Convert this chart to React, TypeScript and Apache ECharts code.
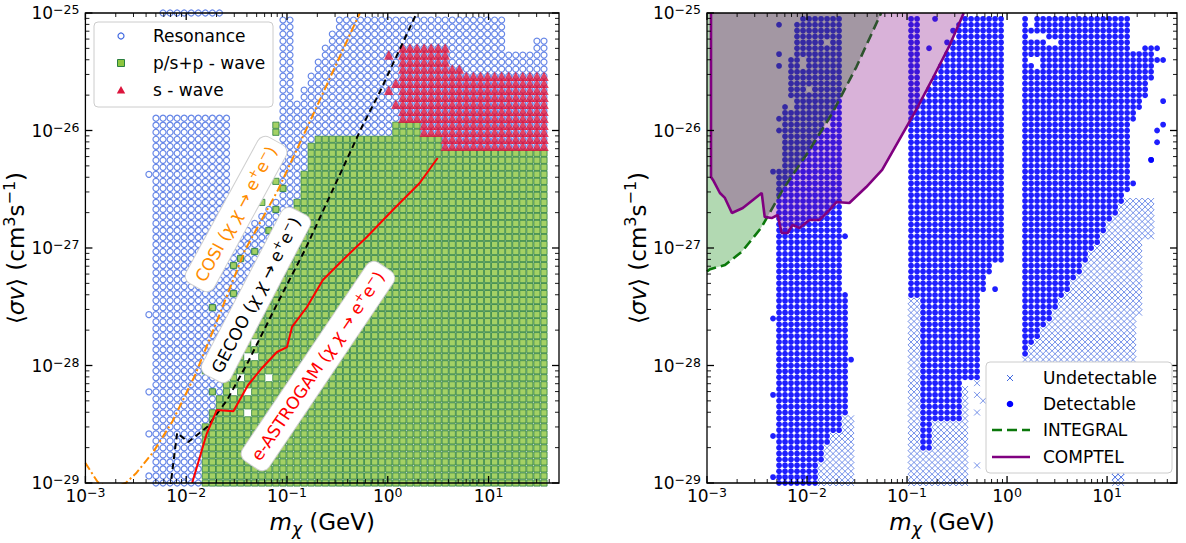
import React, { useEffect, useRef } from "react";
import * as echarts from "echarts";

const FONT = "DejaVu Sans";

// ---- axes (log10 units) ----
const X_MIN = -3;
const X_MAX = Math.log10(50);
const Y_MIN = -29;
const Y_MAX = -25;
const X_DECADES = [-3, -2, -1, 0, 1];
const Y_DECADES = [-29, -28, -27, -26, -25];
const MINOR_FACTORS = [2, 3, 4, 5, 6, 7, 8, 9];

const LEFT_STEP = [0.07, 4 / 67];
const RIGHT_STEP = [0.06, 0.05];

// ---- LEFT PANEL: regions of the scan, [log10 m, log10 <sv>] ----
const LEFT_RESONANCE_POLYS = [
  [[-2.31, -29], [-1.58, -29], [-1.58, -25.85], [-2.31, -25.85]],
  [[-2.24, -25.03], [-1.6, -25.03], [-1.6, -24.97], [-2.24, -24.97]],
  [[-1.58, -29], [-1.58, -26.95], [-1.3, -26.75], [-1.05, -26.5], [-1.05, -25.0], [-0.9, -25.0], [-0.9, -25.72], [-0.47, -25.0], [1.16, -25.0], [1.16, -25.35], [1.42, -25.3], [1.42, -25.2], [1.56, -25.2], [1.56, -26.3], [0.3, -26.3], [-0.8, -29]],
];
const LEFT_PWAVE_POLY = [
  [-1.83, -29], [1.57, -29], [1.57, -26.17], [0.55, -26.17], [0.55, -26.06], [0.33, -26.06], [0.33, -25.9], [0.04, -25.9], [0.04, -26.04], [-0.75, -26.04], [-0.9, -26.6], [-1.05, -27.05], [-1.25, -27.45], [-1.45, -27.85], [-1.62, -28.2], [-1.83, -28.5],
];
const LEFT_SWAVE_POLY = [
  [0.12, -26.2], [0.12, -25.25], [0.58, -25.25], [0.58, -25.43], [0.74, -25.43], [0.74, -25.51], [1.57, -25.51], [1.57, -26.2],
];
const LEFT_RESONANCE_EXTRA = [[-2.36, -26.36], [-2.36, -27.57], [-2.36, -28.23], [-2.36, -28.59], [-2.36, -28.95]];
const LEFT_PWAVE_EXTRA = [
  [-1.099, -25.996], [-1.099, -25.94], [-1.099, -26.447], [-1.04, -26.506], [-1.099, -26.677], [-1.238, -26.609], [-1.149, -26.821],
  [-1.347, -27.017], [-1.465, -27.077], [-1.564, -27.128], [-1.564, -27.374], [-1.762, -27.485], [-1.812, -28.055], [-1.713, -28.251], [-1.663, -27.868],
];
const LEFT_SWAVE_EXTRA = [[0.0, -25.34], [0.05, -25.57], [0.0, -25.66], [0.06, -25.8]];
const LEFT_EMPTY_CELLS = [
  [-1.347, -27.826], [-1.416, -27.928], [-1.287, -27.928], [-1.465, -28.123], [-1.515, -28.226], [-1.386, -28.226], [-1.366, -28.379], [-1.149, -28.081],
];

// ---- LEFT PANEL: sensitivity curves ----
const COSI_CURVE = [
  [-3.0, -28.83], [-2.88, -28.99], [-2.75, -29.05], [-2.6, -29.0], [-2.5, -28.92], [-2.33, -28.74], [-2.139, -28.48], [-1.911, -28.08],
  [-1.683, -27.596], [-1.416, -27.017], [-1.089, -26.506], [-0.752, -25.885], [-0.277, -25.0],
];
const GECOO_CURVE = [
  [-2.16, -29.05], [-2.09, -28.574], [-1.98, -28.651], [-1.792, -28.523], [-1.594, -28.294], [-1.386, -27.97], [-1.089, -27.46],
  [-0.822, -27.017], [-0.257, -25.97], [-0.079, -25.672], [0.287, -25.0],
];
const ASTROGAM_CURVE = [
  [-1.941, -29.0], [-1.795, -28.577], [-1.696, -28.379], [-1.532, -28.39], [-1.386, -28.166], [-1.248, -28.021], [-1.099, -27.885],
  [-1.0, -27.843], [-0.95, -27.672], [-0.802, -27.502], [-0.644, -27.272], [-0.446, -27.102], [-0.208, -26.906], [0.05, -26.677],
  [0.317, -26.447], [0.495, -26.234],
];
const ANNOTATIONS = [
  { label: "COSI", at: [-1.505, -26.711], angle: 61.4, color: "#ff8c00" },
  { label: "GECOO", at: [-1.307, -27.4], angle: 62.5, color: "#000000" },
  { label: "e-ASTROGAM", at: [-0.693, -28.004], angle: 56, color: "#ff0000" },
];

// ---- RIGHT PANEL: regions ----
const DETECTABLE_POLYS = [
  [[-2.3, -29], [-1.9, -29], [-1.9, -28.83], [-1.85, -28.83], [-1.85, -28.69], [-1.78, -28.69], [-1.78, -28.55], [-1.65, -28.55], [-1.65, -28.42], [-1.56, -28.4], [-1.56, -27.36], [-1.62, -27.36], [-1.62, -25.0], [-2.08, -25.0], [-2.15, -25.3], [-2.25, -26.0], [-2.3, -26.5]],
  [[-1.0, -25.0], [-0.88, -25.0], [-0.88, -25.78], [-0.75, -25.55], [-0.58, -25.28], [-0.44, -25.0], [-0.06, -25.0], [-0.06, -27.13], [-0.16, -27.13], [-0.16, -27.21], [-0.2, -27.21], [-0.2, -27.36], [-0.3, -27.45], [-0.3, -28.1], [-0.43, -28.15], [-0.43, -28.46], [-0.73, -28.46], [-0.73, -28.72], [-0.88, -28.72], [-0.88, -27.42], [-1.0, -27.42]],
  [[0.144, -25.0], [1.21, -25.0], [1.21, -25.35], [1.35, -25.3], [1.46, -25.25], [1.5, -25.5], [1.42, -25.6], [1.35, -25.8], [1.25, -25.95], [1.25, -26.45], [1.2, -26.55], [0.144, -27.98]],
];
const UNDETECTABLE_POLYS = [
  [[-1.9, -29], [-1.5, -29], [-1.5, -28.6], [-1.55, -28.4], [-1.65, -28.4], [-1.9, -28.83]],
  [[-1.0, -29], [-0.4, -29], [-0.4, -28.15], [-0.88, -28.15], [-0.88, -27.42], [-1.0, -27.42]],
  [[0.144, -27.98], [1.2, -26.55], [1.44, -26.6], [1.44, -26.9], [1.38, -26.95], [1.38, -27.5], [1.28, -27.6], [1.28, -28.1], [1.16, -28.5], [1.16, -29.0], [1.02, -29.0], [1.02, -28.9], [0.144, -28.3]],
];
const DETECTABLE_EXTRA = [
  [-2.343, -27.587], [-2.343, -28.234], [-2.343, -28.609], [-2.343, -28.957], [-1.557, -27.936], [-1.627, -26.906],
  [-2.294, -25.085], [-2.294, -25.34], [-2.294, -25.46], [-2.343, -26.36], [-2.274, -25.91], [-2.274, -26.02],
  [-0.801, -25.298], [-0.612, -25.247], [-0.731, -25.043], [-0.552, -25.145], [-0.134, -27.332],
  [1.537, -25.757], [1.478, -25.996], [1.537, -25.953], [1.478, -26.106], [1.428, -26.226], [1.428, -26.268], [1.289, -26.464],
  [1.478, -25.29], [1.478, -25.4], [1.537, -25.4],
];
const UNDETECTABLE_EXTRA = [[-0.31, -28.4], [-0.31, -28.85], [-0.28, -28.15], [-0.3, -28.25], [-0.27, -28.3], [1.08, -28.95], [1.12, -28.95]];
const RIGHT_EMPTY_CELLS = [
  [0.264, -25.05], [0.264, -25.1], [0.21, -25.2], [0.27, -25.2], [0.33, -25.2], [0.39, -25.25], [0.45, -25.25], [0.21, -25.4], [0.27, -25.4], [0.27, -25.45],
  [-2.22, -25.2], [-2.17, -25.25], [-2.05, -25.4], [-2.05, -25.45], [-1.81, -25.25], [-1.98, -25.64], [-2.17, -25.74], [-2.17, -25.8], [-1.82, -25.94], [-2.23, -25.6], [-2.23, -25.65],
];

// ---- RIGHT PANEL: constraint curves ----
const INTEGRAL_CURVE = [
  [-3.0, -27.2], [-2.97, -27.18], [-2.82, -27.145], [-2.65, -27.03], [-2.46, -26.83], [-2.244, -26.506], [-1.975, -26.166],
  [-1.746, -25.851], [-1.507, -25.46], [-1.259, -25.0],
];
const COMPTEL_CURVE = [
  [-2.96, -25.0], [-2.96, -26.396], [-2.94, -26.421], [-2.871, -26.532], [-2.821, -26.574], [-2.751, -26.702], [-2.642, -26.66],
  [-2.453, -26.532], [-2.423, -26.736], [-2.353, -26.745], [-2.294, -26.719], [-2.254, -26.872], [-2.194, -26.872], [-2.144, -26.804],
  [-2.075, -26.83], [-1.975, -26.762], [-1.876, -26.762], [-1.776, -26.677], [-1.706, -26.609], [-1.577, -26.617], [-1.408, -26.481],
  [-1.249, -26.336], [-1.08, -26.081], [-0.91, -25.826], [-0.751, -25.57], [-0.582, -25.289], [-0.433, -25.0],
];

// ---------- helpers ----------
function inPoly(p: number[], poly: number[][]) {
  let inside = false;
  for (let i = 0, j = poly.length - 1; i < poly.length; j = i++) {
    const xi = poly[i][0], yi = poly[i][1], xj = poly[j][0], yj = poly[j][1];
    if ((yi > p[1]) !== (yj > p[1]) && p[0] < ((xj - xi) * (p[1] - yi)) / (yj - yi) + xi) inside = !inside;
  }
  return inside;
}
function snap(p: number[], step: number[]) {
  return [X_MIN + Math.round((p[0] - X_MIN) / step[0]) * step[0], Y_MIN + Math.round((p[1] - Y_MIN) / step[1]) * step[1]];
}
function scanCells(step: number[]) {
  const cells: number[][] = [];
  const nx = Math.floor((X_MAX - X_MIN) / step[0] + 1e-6);
  const ny = Math.round((Y_MAX - Y_MIN) / step[1]);
  for (let i = 0; i <= nx; i++) for (let j = 0; j <= ny; j++) cells.push([X_MIN + i * step[0], Y_MIN + j * step[1]]);
  return cells;
}
const key = (p: number[]) => p[0].toFixed(3) + "," + p[1].toFixed(3);

function buildLeft() {
  const gaps = new Set(LEFT_EMPTY_CELLS.map((p) => key(snap(p, LEFT_STEP))));
  const res: number[][] = [], pw: number[][] = [], sw: number[][] = [];
  for (const c of scanCells(LEFT_STEP)) {
    if (gaps.has(key(c))) continue;
    const g = inPoly(c, LEFT_PWAVE_POLY);
    if (g) pw.push(c);
    else if (LEFT_RESONANCE_POLYS.some((poly) => inPoly(c, poly))) res.push(c);
    if (!g && inPoly(c, LEFT_SWAVE_POLY)) sw.push(c);
  }
  LEFT_RESONANCE_EXTRA.forEach((p) => res.push(snap(p, LEFT_STEP)));
  LEFT_PWAVE_EXTRA.forEach((p) => pw.push(snap(p, LEFT_STEP)));
  LEFT_SWAVE_EXTRA.forEach((p) => sw.push(snap(p, LEFT_STEP)));
  return { res, pw, sw };
}
function buildRight() {
  const gaps = new Set(RIGHT_EMPTY_CELLS.map((p) => key(snap(p, RIGHT_STEP))));
  const det: number[][] = [], und: number[][] = [];
  for (const c of scanCells(RIGHT_STEP)) {
    if (gaps.has(key(c))) continue;
    if (DETECTABLE_POLYS.some((poly) => inPoly(c, poly))) det.push(c);
    else if (UNDETECTABLE_POLYS.some((poly) => inPoly(c, poly))) und.push(c);
  }
  DETECTABLE_EXTRA.forEach((p) => det.push(snap(p, RIGHT_STEP)));
  UNDETECTABLE_EXTRA.forEach((p) => und.push(snap(p, RIGHT_STEP)));
  return { det, und };
}

function tickData() {
  const d: number[][] = [];
  X_DECADES.forEach((n) => {
    d.push([n, 0, 1]);
    MINOR_FACTORS.forEach((f) => {
      const v = n + Math.log10(f);
      if (v < X_MAX - 1e-9) d.push([v, 0, 0]);
    });
  });
  Y_DECADES.forEach((n) => {
    d.push([n, 1, 1]);
    if (n < Y_MAX) MINOR_FACTORS.forEach((f) => d.push([n + Math.log10(f), 1, 0]));
  });
  d.push([0, 2, 0]);
  return d;
}

const supText = (n: number) => (n < 0 ? "−" + Math.abs(n) : String(n));
const decadeLabel = (v: number) =>
  Math.abs(v - Math.round(v)) < 1e-6 ? `{b|10}{s|${supText(Math.round(v))}}` : "";
const labelRich = {
  b: { fontSize: 17, fontFamily: FONT, color: "#000", lineHeight: 20 },
  s: { fontSize: 12.5, fontFamily: FONT, color: "#000", lineHeight: 12, verticalAlign: "top" },
};
const nameRich = {
  n: { fontSize: 23, fontFamily: FONT, color: "#000", lineHeight: 30 },
  i: { fontSize: 23, fontFamily: FONT, fontStyle: "italic", color: "#000", lineHeight: 30 },
  c: { fontSize: 17, fontFamily: FONT, fontStyle: "italic", color: "#000", lineHeight: 17, verticalAlign: "bottom" },
  s: { fontSize: 16, fontFamily: FONT, color: "#000", lineHeight: 17, verticalAlign: "top" },
};

function xAxis(gridIndex: number) {
  return {
    gridIndex, type: "value", min: X_MIN, max: X_MAX, interval: 1,
    axisLine: { show: false }, axisTick: { show: false }, splitLine: { show: false },
    axisLabel: { formatter: decadeLabel, rich: labelRich, margin: 3, showMaxLabel: false, hideOverlap: false },
    name: "{i|m}{c|χ}{n| (GeV)}", nameLocation: "middle", nameGap: 24, nameTextStyle: { rich: nameRich },
  };
}
function yAxis(gridIndex: number, gap: number) {
  return {
    gridIndex, type: "value", min: Y_MIN, max: Y_MAX, interval: 1,
    axisLine: { show: false }, axisTick: { show: false }, splitLine: { show: false },
    axisLabel: { formatter: decadeLabel, rich: labelRich, margin: 6 },
    name: "{n|⟨}{i|σv}{n|⟩ (cm}{s|3}{n|s}{s|−1}{n|)}", nameLocation: "middle", nameRotate: 90, nameGap: gap,
    nameTextStyle: { rich: nameRich },
  };
}
function frameSeries(idx: number) {
  return {
    type: "custom", xAxisIndex: idx, yAxisIndex: idx, clip: false, silent: true, z: 20,
    dimensions: ["v", "kind", "major"],
    data: tickData(),
    renderItem: (params: any, api: any) => {
      const v = api.value(0), kind = api.value(1), major = api.value(2);
      const len = major ? 7 : 4;
      const style = { stroke: "#000", lineWidth: major ? 1.3 : 0.9 };
      if (kind === 0) {
        const b = api.coord([v, Y_MIN]), t = api.coord([v, Y_MAX]);
        return { type: "group", children: [
          { type: "line", shape: { x1: b[0], y1: b[1], x2: b[0], y2: b[1] - len }, style },
          { type: "line", shape: { x1: t[0], y1: t[1], x2: t[0], y2: t[1] + len }, style },
        ] };
      }
      if (kind === 1) {
        const l = api.coord([X_MIN, v]), r = api.coord([X_MAX, v]);
        return { type: "group", children: [
          { type: "line", shape: { x1: l[0], y1: l[1], x2: l[0] + len, y2: l[1] }, style },
          { type: "line", shape: { x1: r[0], y1: r[1], x2: r[0] - len, y2: r[1] }, style },
        ] };
      }
      const a = api.coord([X_MIN, Y_MAX]), c = api.coord([X_MAX, Y_MIN]);
      return { type: "rect", shape: { x: a[0], y: a[1], width: c[0] - a[0], height: c[1] - a[1] }, style: { fill: "none", stroke: "#000", lineWidth: 1.3 } };
    },
  };
}
const scatterBase = { type: "scatter", silent: true, large: false, progressive: 0, z: 2 };

export default function App() {
  const ref = useRef<HTMLDivElement>(null);
  useEffect(() => {
    if (!ref.current) return;
    const chart = echarts.init(ref.current, null, { renderer: "svg" });
    const L = buildLeft();
    const R = buildRight();
    chart.setOption({
      animation: false,
      backgroundColor: "#ffffff",
      textStyle: { fontFamily: FONT },
      grid: [
        { left: 85, top: 13, width: 474, height: 470 },
        { left: 707, top: 13, width: 470, height: 470 },
      ],
      xAxis: [xAxis(0), xAxis(1)],
      yAxis: [yAxis(0, 50), yAxis(1, 54)],
      series: [
        { ...scatterBase, name: "Resonance", xAxisIndex: 0, yAxisIndex: 0, data: L.res, symbol: "circle", symbolSize: 6,
          itemStyle: { color: "rgba(0,0,0,0)", borderColor: "#4169e1", borderWidth: 1.2 } },
        { ...scatterBase, name: "p/s+p - wave", xAxisIndex: 0, yAxisIndex: 0, data: L.pw, symbol: "rect", symbolSize: 6.2,
          itemStyle: { color: "#8dc63f", borderColor: "#2a7f3f", borderWidth: 1 } },
        { ...scatterBase, name: "s - wave", xAxisIndex: 0, yAxisIndex: 0, data: L.sw, symbol: "triangle", symbolSize: 9.5,
          itemStyle: { color: "#dc143c" } },
        { type: "line", name: "COSI", xAxisIndex: 0, yAxisIndex: 0, data: COSI_CURVE, symbol: "none", silent: true, z: 5,
          lineStyle: { color: "#ff8c00", width: 2, type: [8, 3, 2, 3] } },
        { type: "line", name: "GECOO", xAxisIndex: 0, yAxisIndex: 0, data: GECOO_CURVE, symbol: "none", silent: true, z: 5,
          lineStyle: { color: "#000", width: 2, type: [6, 4] } },
        { type: "line", name: "e-ASTROGAM", xAxisIndex: 0, yAxisIndex: 0, data: ASTROGAM_CURVE, symbol: "none", silent: true, z: 5,
          lineStyle: { color: "#ff0000", width: 2 } },
        { ...scatterBase, name: "Undetectable", xAxisIndex: 1, yAxisIndex: 1, data: R.und, symbol: "path://M0,0L10,10M10,0L0,10", symbolSize: 6,
          itemStyle: { color: "rgba(0,0,0,0)", borderColor: "#4169e1", borderWidth: 0.9 } },
        { ...scatterBase, name: "Detectable", xAxisIndex: 1, yAxisIndex: 1, data: R.det, symbol: "circle", symbolSize: 5.8,
          itemStyle: { color: "#0000ff", opacity: 0.88 } },
        { type: "line", name: "INTEGRAL", xAxisIndex: 1, yAxisIndex: 1, data: INTEGRAL_CURVE, symbol: "none", silent: true, z: 5,
          lineStyle: { color: "#0b780b", width: 2.6, type: [10, 5] }, areaStyle: { color: "#008000", opacity: 0.3, origin: "end" } },
        { type: "line", name: "COMPTEL", xAxisIndex: 1, yAxisIndex: 1, data: COMPTEL_CURVE, symbol: "none", silent: true, z: 6,
          lineStyle: { color: "#800080", width: 2.6 }, areaStyle: { color: "#800080", opacity: 0.3, origin: "end" } },
        frameSeries(0),
        frameSeries(1),
      ],
    });

    const txt = (x: number, y: number, text: string) => ({
      type: "text", x, y, z: 101,
      style: { text, fontSize: 17, fontFamily: FONT, fill: "#000", align: "left", verticalAlign: "middle", textAlign: "left", textVerticalAlign: "middle" },
    });
    const legendL = [
      { type: "rect", z: 100, shape: { x: 94, y: 22, width: 179, height: 85, r: 4 }, style: { fill: "rgba(255,255,255,0.8)", stroke: "#cccccc", lineWidth: 1 } },
      { type: "circle", z: 101, shape: { cx: 121, cy: 36, r: 3 }, style: { fill: "none", stroke: "#4169e1", lineWidth: 1.2 } },
      { type: "rect", z: 101, shape: { x: 117.5, y: 59.5, width: 7, height: 7 }, style: { fill: "#8dc63f", stroke: "#2a7f3f", lineWidth: 1 } },
      { type: "polygon", z: 101, shape: { points: [[121, 86], [116.8, 93.5], [125.2, 93.5]] }, style: { fill: "#dc143c" } },
      txt(153, 36, "Resonance"), txt(153, 63, "p/s+p - wave"), txt(153, 90, "s - wave"),
    ];
    const legendR = [
      { type: "rect", z: 100, shape: { x: 986, y: 362, width: 186, height: 111, r: 4 }, style: { fill: "#ffffff", stroke: "#cccccc", lineWidth: 1 } },
      { type: "line", z: 101, shape: { x1: 1007, y1: 375, x2: 1013, y2: 381 }, style: { stroke: "#4169e1", lineWidth: 1 } },
      { type: "line", z: 101, shape: { x1: 1007, y1: 381, x2: 1013, y2: 375 }, style: { stroke: "#4169e1", lineWidth: 1 } },
      { type: "circle", z: 101, shape: { cx: 1010, cy: 404, r: 3.3 }, style: { fill: "#0000ff" } },
      { type: "line", z: 101, shape: { x1: 992, y1: 430, x2: 1030, y2: 430 }, style: { stroke: "#0b780b", lineWidth: 2.6, lineDash: [10, 5] } },
      { type: "line", z: 101, shape: { x1: 992, y1: 457, x2: 1030, y2: 457 }, style: { stroke: "#800080", lineWidth: 2.6 } },
      txt(1043, 378, "Undetectable"), txt(1043, 404, "Detectable"), txt(1043, 430, "INTEGRAL"), txt(1043, 457, "COMPTEL"),
    ];
    const notes = ANNOTATIONS.map((a) => {
      const p = chart.convertToPixel({ gridIndex: 0 }, a.at) as number[];
      const base = { fontSize: 17, fontFamily: FONT, fill: a.color, lineHeight: 21 };
      return {
        type: "text", x: p[0], y: p[1], rotation: (a.angle * Math.PI) / 180, z: 90,
        style: {
          text: `{t|${a.label} (}{m|χ χ}{t| → e}{s|+}{t|e}{s|−}{t|)}`,
          rich: {
            t: base,
            m: { ...base, fontStyle: "italic" },
            s: { fontSize: 12, fontFamily: FONT, fill: a.color, lineHeight: 12, verticalAlign: "top" },
          },
          fontSize: 17, fontFamily: FONT, fill: a.color,
          align: "center", verticalAlign: "middle", textAlign: "center", textVerticalAlign: "middle",
          backgroundColor: "#ffffff", borderColor: "#d0d0d0", borderWidth: 1, borderRadius: 8, padding: [5, 7],
        },
      };
    });
    chart.setOption({ graphic: [...notes, ...legendL, ...legendR] });
    return () => chart.dispose();
  }, []);
  return <div ref={ref} style={{ position: "fixed", left: 0, top: 0, width: 1186, height: 543 }} />;
}
